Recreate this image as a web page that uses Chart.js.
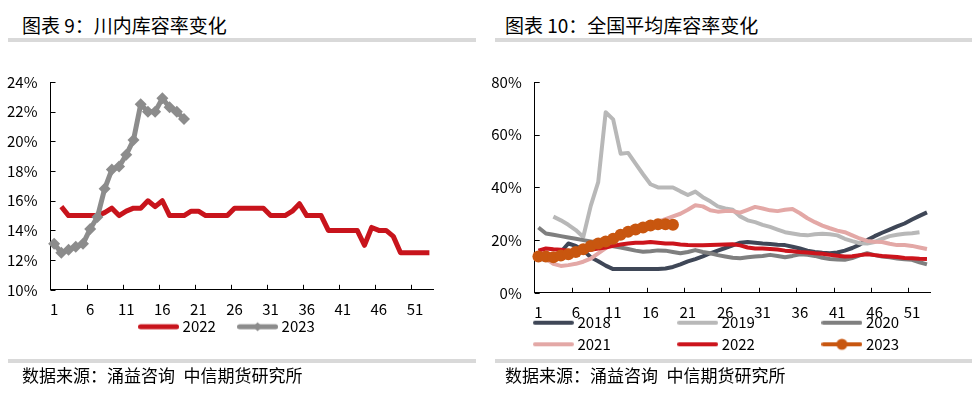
<!DOCTYPE html>
<html>
<head>
<meta charset="utf-8">
<script src="https://cdn.jsdelivr.net/npm/chart.js@4"></script>
<style>
  body { margin: 0; background: #fff; font-family: "Noto Sans CJK SC", sans-serif; color: #000; }
  #page { position: relative; width: 972px; height: 398px; overflow: hidden; }
  .title, .source { position: absolute; white-space: nowrap; line-height: 1; }
  .title { top: 15px; font-size: 19px; }
  .source { top: 366px; font-size: 17px; }
  .rule { position: absolute; height: 4px; background: #d9d9d9; }
  canvas { position: absolute; top: 60px; }
</style>
</head>
<body>
<div id="page">
  <div class="title" style="left:22px">图表 9：川内库容率变化</div>
  <div class="title" style="left:505px">图表 10：全国平均库容率变化</div>
  <div class="rule" style="left:8px;width:468px;top:38px"></div>
  <div class="rule" style="left:495px;width:477px;top:38px"></div>
  <canvas id="left" width="480" height="308" style="left:0"></canvas>
  <canvas id="right" width="492" height="314" style="left:480px"></canvas>
  <div class="rule" style="left:8px;width:468px;top:359px"></div>
  <div class="rule" style="left:495px;width:477px;top:359px"></div>
  <div class="source" style="left:22px">数据来源：涌益咨询&ensp;中信期货研究所</div>
  <div class="source" style="left:505px">数据来源：涌益咨询&ensp;中信期货研究所</div>
</div>
<script>
// week numbers 1..53
const weeks = Array.from({ length: 53 }, (_, i) => String(i + 1));

// 川内库容率 (%)
const sichuan2022 = [null, 15.6, 15.0, 15.0, 15.0, 15.0, 15.0, 15.2, 15.5, 15.0,
  15.3, 15.5, 15.5, 16.0, 15.6, 16.0, 15.0, 15.0, 15.0, 15.3,
  15.3, 15.0, 15.0, 15.0, 15.0, 15.5, 15.5, 15.5, 15.5, 15.5,
  15.0, 15.0, 15.0, 15.3, 15.8, 15.0, 15.0, 15.0, 14.0, 14.0,
  14.0, 14.0, 14.0, 13.0, 14.2, 14.0, 14.0, 13.6, 12.5, 12.5,
  12.5, 12.5, 12.5];
const sichuan2023 = [13.1, 12.5, 12.7, 12.9, 13.1, 14.1, 14.9, 16.8, 18.1, 18.3,
  19.1, 20.1, 22.5, 22.0, 22.0, 22.9, 22.3, 22.0, 21.5];

// 全国平均库容率 (%)
const national2018 = [13.0, 12.5, 12.0, 15.5, 18.7, 17.8, 16.2, 13.5, 12.0, 10.3,
  9.0, 9.0, 9.0, 9.0, 9.0, 9.0, 9.0, 9.2, 9.8, 10.8,
  11.9, 12.8, 13.8, 15.0, 16.0, 17.0, 18.0, 19.0, 19.3, 19.0,
  18.7, 18.5, 18.2, 18.1, 17.5, 16.8, 16.0, 15.5, 15.2, 15.0,
  15.3, 16.0, 17.0, 18.3, 20.0, 21.5, 22.8, 24.0, 25.2, 26.3,
  27.8, 29.2, 30.5];
const national2019 = [null, null, 28.9, 27.5, 25.8, 23.8, 21.2, 33.0, 42.0, 68.5,
  65.8, 52.8, 53.1, 49.0, 45.0, 41.2, 40.0, 40.0, 40.0, 38.5,
  37.1, 38.4, 36.3, 34.7, 32.8, 32.0, 31.5, 29.0, 27.5, 26.8,
  25.8, 25.0, 24.0, 23.0, 22.5, 22.0, 21.8, 22.2, 22.4, 22.2,
  21.8, 20.5, 19.6, 18.8, 18.7, 19.3, 20.5, 21.5, 22.0, 22.4,
  22.6, 23.0, null];
const national2020 = [24.8, 22.5, 22.0, 21.5, 21.0, 20.5, 20.0, 19.5, 19.0, 18.2,
  17.7, 17.2, 16.6, 16.0, 15.6, 15.8, 16.1, 16.0, 15.5, 15.0,
  15.5, 16.2, 15.5, 15.0, 14.3, 13.8, 13.3, 13.1, 13.5, 13.8,
  14.0, 14.4, 14.0, 13.5, 14.0, 14.6, 14.4, 14.0, 13.3, 12.8,
  12.6, 12.5, 13.2, 14.2, 15.0, 14.3, 13.8, 13.5, 13.0, 12.7,
  12.5, 11.6, 10.8];
const national2021 = [14.0, 13.0, 11.0, 10.2, 10.5, 11.0, 11.8, 13.0, 15.0, 17.0,
  19.0, 21.0, 22.5, 24.0, 25.0, 26.0, 27.0, 28.0, 29.0, 30.0,
  31.5, 33.2, 32.8, 31.3, 30.8, 31.0, 31.0, 30.4, 31.5, 32.6,
  32.0, 31.3, 31.0, 31.5, 31.8, 30.2, 28.3, 26.8, 25.5, 24.5,
  23.6, 23.0, 21.8, 20.6, 19.7, 19.4, 19.3, 18.6, 18.1, 18.1,
  17.8, 17.2, 16.6];
const national2022 = [16.0, 16.8, 16.5, 16.3, 16.0, 16.0, 16.0, 16.3, 16.8, 17.2,
  17.8, 18.3, 18.7, 19.0, 19.0, 19.3, 19.0, 18.7, 18.7, 18.3,
  18.1, 18.0, 18.0, 18.1, 18.2, 18.3, 18.4, 18.0, 17.2, 16.8,
  16.8, 16.6, 16.4, 16.0, 15.8, 15.5, 15.3, 15.0, 14.8, 14.4,
  14.1, 13.8, 13.9, 14.3, 14.6, 14.3, 14.0, 13.8, 13.6, 13.2,
  13.1, 12.9, 12.8];
const national2023 = [13.8, 13.8, 13.5, 14.2, 14.6, 15.5, 16.5, 17.8, 18.7, 19.5,
  20.5, 22.0, 23.2, 24.0, 24.8, 25.5, 26.0, 26.0, 25.8];

const years = ['2018', '2019', '2020', '2021', '2022', '2023'];
const nationalColors = ['#3f4757', '#b8b8b8', '#7f7f7f', '#e3a8a6', '#cc141c', '#c8560f'];

Chart.defaults.font.family = '"Noto Sans CJK SC", sans-serif';
Chart.defaults.font.size = 15;
Chart.defaults.color = '#000';
Chart.defaults.animation = false;

// small line sample for the legend, optional marker in the middle
function legendIcon(color, width, marker) {
  const c = document.createElement('canvas');
  c.width = 41; c.height = 14;
  const g = c.getContext('2d');
  g.strokeStyle = color; g.fillStyle = color;
  g.lineWidth = width; g.lineCap = 'round';
  g.beginPath(); g.moveTo(width / 2, 7); g.lineTo(41 - width / 2, 7); g.stroke();
  g.beginPath();
  if (marker === 'diamond') { g.moveTo(20.5, 2.5); g.lineTo(25, 7); g.lineTo(20.5, 11.5); g.lineTo(16, 7); g.fill(); }
  if (marker === 'circle') { g.arc(20.5, 7, 5.5, 0, Math.PI * 2); g.fill(); }
  return c;
}

// pad legend text so the three columns line up like the original
const measure = document.createElement('canvas').getContext('2d');
measure.font = '15px "Noto Sans CJK SC", sans-serif';
function padTo(text, target) {
  while (measure.measureText(text).width < target) text += ' ';
  return text;
}

const innerTicks = {
  id: 'innerTicks',
  beforeDatasetsDraw(chart) {
    const { ctx, chartArea, scales: { x, y } } = chart;
    const half = (x.getPixelForValue(1) - x.getPixelForValue(0)) / 2;
    ctx.save();
    ctx.strokeStyle = '#000';
    ctx.lineWidth = 1;
    ctx.beginPath();
    for (let i = 5; i < weeks.length; i += 5) {
      const px = Math.round(x.getPixelForValue(i) - half) + 0.5;
      ctx.moveTo(px, chartArea.bottom);
      ctx.lineTo(px, chartArea.bottom - 5);
    }
    y.ticks.forEach((t, i) => {
      const py = Math.round(y.getPixelForTick(i)) + 0.5;
      ctx.moveTo(chartArea.left, py);
      ctx.lineTo(chartArea.left + 5, py);
    });
    ctx.stroke();
    ctx.restore();
  }
};

// put the legend block where the original has it
const legendPlace = {
  id: 'legendPlace',
  afterLayout(chart, args, opts) {
    const lg = chart.legend;
    lg.left = opts.left;
    lg.right = chart.width;
    lg.top = opts.top;
    lg.bottom = opts.top + lg.height;
  }
};

function makeScales(min, max, step, yWidth, xHeight) {
  return {
    x: {
      offset: true,
      grid: { drawOnChartArea: false, drawTicks: false },
      border: { color: '#000' },
      ticks: {
        autoSkip: false, maxRotation: 0, padding: 10,
        callback: (v, i) => (i % 5 === 0 ? weeks[i] : '')
      },
      afterFit: s => { s.height = xHeight; }
    },
    y: {
      min: min, max: max,
      grid: { drawOnChartArea: false, drawTicks: false },
      border: { color: '#000' },
      ticks: { stepSize: step, padding: 13, callback: v => v + '%' },
      afterFit: s => { s.width = yWidth; }
    }
  };
}

function makeLegend(icons, texts, padding) {
  return {
    position: 'bottom',
    align: 'start',
    labels: {
      usePointStyle: true,
      pointStyleWidth: 33,
      padding: padding,
      generateLabels(chart) {
        const items = Chart.defaults.plugins.legend.labels.generateLabels(chart);
        items.forEach((it, i) => { it.pointStyle = icons[i]; it.text = texts[i]; });
        return items;
      }
    }
  };
}

new Chart(document.getElementById('left'), {
  type: 'line',
  data: {
    labels: weeks,
    datasets: [
      { label: '2022', data: sichuan2022, borderColor: '#c8141c', borderWidth: 5,
        pointRadius: 0, borderJoinStyle: 'round', order: 1 },
      { label: '2023', data: sichuan2023, borderColor: '#8c8c8c', backgroundColor: '#8c8c8c',
        borderWidth: 5, pointStyle: 'rectRot', pointRadius: 6, pointBorderWidth: 0,
        borderJoinStyle: 'round', order: 0, clip: false }
    ]
  },
  options: {
    responsive: false,
    layout: { autoPadding: false, padding: { left: 0, right: 47, top: 17, bottom: 0 } },
    scales: makeScales(10, 24, 2, 50.5, 28),
    plugins: {
      legend: makeLegend(
        [legendIcon('#c8141c', 5), legendIcon('#8c8c8c', 5, 'diamond')],
        ['2022', '2023'], 25.2),
      legendPlace: { left: 116.9, top: 234 },
      tooltip: { enabled: false }
    }
  },
  plugins: [innerTicks, legendPlace]
});

const nationalData = [national2018, national2019, national2020, national2021, national2022, national2023];

new Chart(document.getElementById('right'), {
  type: 'line',
  data: {
    labels: weeks,
    datasets: years.map((yr, i) => ({
      label: yr,
      data: nationalData[i],
      borderColor: nationalColors[i],
      backgroundColor: nationalColors[i],
      borderWidth: 4,
      borderJoinStyle: 'round',
      pointRadius: yr === '2023' ? 6 : 0,
      pointBorderWidth: 0,
      order: -i,
      clip: yr === '2023' ? false : undefined
    }))
  },
  options: {
    responsive: false,
    layout: { autoPadding: false, padding: { left: 0, right: 41.3, top: 15.7, bottom: 0 } },
    scales: makeScales(0, 80, 20, 54.7, 28),
    plugins: {
      legend: makeLegend(
        years.map((yr, i) => legendIcon(nationalColors[i], 4, yr === '2023' ? 'circle' : null)),
        years.map((yr, i) => (i % 3 === 2 ? yr : padTo(yr, 97))), 6.6),
      legendPlace: { left: 50.3, top: 248.6 },
      tooltip: { enabled: false }
    }
  },
  plugins: [innerTicks, legendPlace]
});
</script>
</body>
</html>
